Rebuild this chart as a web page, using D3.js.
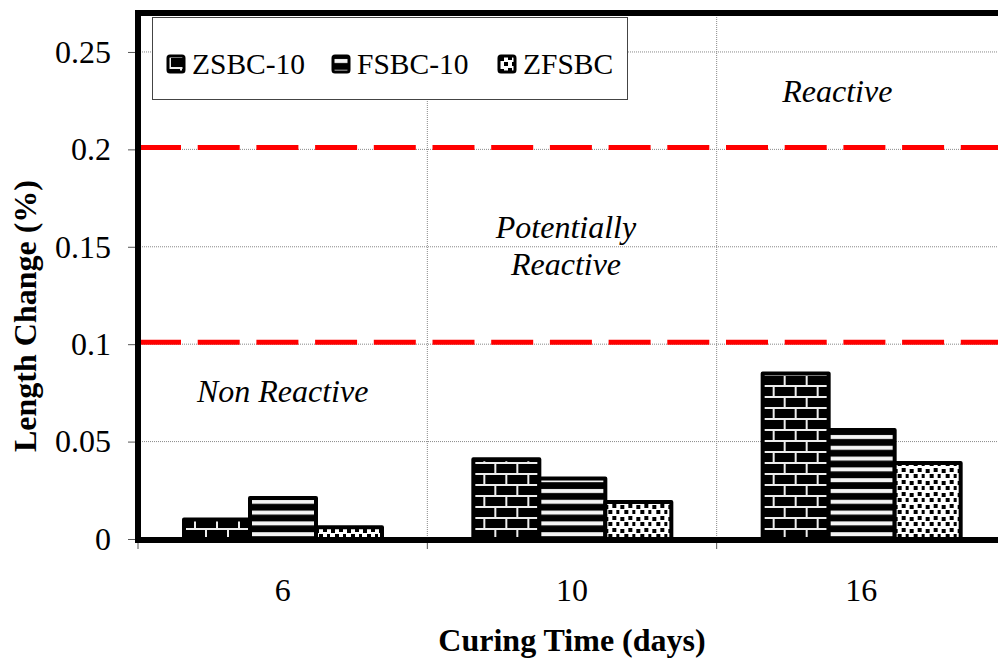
<!DOCTYPE html>
<html>
<head>
<meta charset="utf-8">
<script src="https://cdn.jsdelivr.net/npm/d3@7"></script>
<style>
  body { margin: 0; background: #fff; }
  svg text { font-family: "Liberation Serif", "Times New Roman", Times, serif; fill: #000; }
</style>
</head>
<body>
<div id="chart"></div>
<script>
// data
var categories = ["6", "10", "16"];
var seriesNames = ["ZSBC-10", "FSBC-10", "ZFSBC"];
var zsbcValues = [0.010, 0.041, 0.085];
var fsbcValues = [0.021, 0.031, 0.056];
var zfsbcValues = [0.006, 0.019, 0.039];
var yTickValues = [0, 0.05, 0.1, 0.15, 0.2, 0.25];
var limitValues = [0.101, 0.201];

var svgWidth = 998;
var svgHeight = 660;

var margin = { top: 13, left: 138 };
var plotRight = 1006;
var plotBottom = 539;

var svg = d3.select("#chart")
  .append("svg")
  .attr("width", svgWidth)
  .attr("height", svgHeight);

var defs = svg.append("defs");

// brick pattern
var brick = defs.append("pattern")
  .attr("id", "brick")
  .attr("patternUnits", "userSpaceOnUse")
  .attr("width", 22)
  .attr("height", 22);
brick.append("rect").attr("width", 22).attr("height", 22).attr("fill", "#000");
brick.append("path")
  .attr("d", "M0,1H22M0,12H22M2,1V12M13,12V22")
  .attr("stroke", "#eee")
  .attr("stroke-width", 2);

// horizontal stripes
var stripes = defs.append("pattern")
  .attr("id", "stripes")
  .attr("patternUnits", "userSpaceOnUse")
  .attr("width", 10)
  .attr("height", 10.8);
stripes.append("rect").attr("width", 10).attr("height", 10.8).attr("fill", "#000");
stripes.append("rect").attr("y", 3).attr("width", 10).attr("height", 4).attr("fill", "#f4f4f4");

// dots
var dots = defs.append("pattern")
  .attr("id", "dots")
  .attr("patternUnits", "userSpaceOnUse")
  .attr("width", 16)
  .attr("height", 12);
dots.append("rect").attr("width", 16).attr("height", 12).attr("fill", "#fff");
[[1, 1], [9, 0], [5, 6], [13, 6]].forEach(function(p) {
  dots.append("rect")
    .attr("x", p[0]).attr("y", p[1])
    .attr("width", 4).attr("height", 4)
    .attr("fill", "#000");
});

var fills = ["url(#brick)", "url(#stripes)", "url(#dots)"];

// scales
var x0 = d3.scaleBand()
  .domain(categories)
  .range([margin.left, plotRight]);

var x1 = d3.scaleBand()
  .domain(seriesNames)
  .range([46, 244]);

var y = d3.scaleLinear()
  .domain([0, 0.27])
  .range([plotBottom, margin.top]);

// gridlines
var grid = svg.append("g");
grid.selectAll("line.h")
  .data(yTickValues.slice(1))
  .enter()
  .append("line")
  .attr("x1", margin.left)
  .attr("x2", plotRight)
  .attr("y1", d => y(d))
  .attr("y2", d => y(d))
  .attr("stroke", "#888")
  .attr("stroke-width", 1)
  .attr("stroke-dasharray", "1,1");

grid.selectAll("line.v")
  .data(categories.slice(1))
  .enter()
  .append("line")
  .attr("x1", d => x0(d))
  .attr("x2", d => x0(d))
  .attr("y1", margin.top)
  .attr("y2", plotBottom)
  .attr("stroke", "#888")
  .attr("stroke-width", 1)
  .attr("stroke-dasharray", "1,1");

// red limit lines
svg.selectAll("line.limit")
  .data(limitValues)
  .enter()
  .append("line")
  .attr("x1", margin.left + 1)
  .attr("x2", plotRight)
  .attr("y1", d => y(d))
  .attr("y2", d => y(d))
  .attr("stroke", "#ff0000")
  .attr("stroke-width", 5)
  .attr("stroke-dasharray", "42,16.7");

// bars
var series = [zsbcValues, fsbcValues, zfsbcValues];
var barGroups = svg.selectAll("g.cat")
  .data(categories)
  .enter()
  .append("g")
  .attr("transform", d => `translate(${x0(d)},0)`);

barGroups.selectAll("rect")
  .data((d, i) => seriesNames.map((s, j) => ({ name: s, value: series[j][i], idx: j })))
  .enter()
  .append("rect")
  .attr("x", d => x1(d.name))
  .attr("width", x1.bandwidth())
  .attr("y", d => y(d.value))
  .attr("height", d => plotBottom - y(d.value))
  .attr("fill", d => fills[d.idx])
  .attr("stroke", "#000")
  .attr("stroke-width", 4)
  .attr("stroke-linejoin", "round");

// axes
var leftAxis = d3.axisLeft(y)
  .tickValues(yTickValues)
  .tickSize(10)
  .tickPadding(17)
  .tickFormat(d => String(d));

var yAxis = svg.append("g")
  .attr("transform", `translate(${margin.left}, 0)`)
  .call(leftAxis)
  .attr("font-family", null);
yAxis.select(".domain").remove();
yAxis.selectAll("line").attr("stroke", "#555");
yAxis.selectAll("text")
  .attr("font-size", 32);

var xAxis = svg.append("g");
xAxis.selectAll("line")
  .data(categories)
  .enter()
  .append("line")
  .attr("x1", d => x0(d))
  .attr("x2", d => x0(d))
  .attr("y1", plotBottom)
  .attr("y2", plotBottom + 10)
  .attr("stroke", "#555");
xAxis.selectAll("text")
  .data(categories)
  .enter()
  .append("text")
  .attr("x", d => x0(d) + x0.bandwidth() / 2)
  .attr("y", 601)
  .attr("text-anchor", "middle")
  .attr("font-size", 32)
  .text(d => d);

// thick frame lines
svg.append("line")
  .attr("x1", margin.left).attr("x2", margin.left)
  .attr("y1", margin.top - 3).attr("y2", plotBottom + 4)
  .attr("stroke", "#000").attr("stroke-width", 6);
svg.append("line")
  .attr("x1", margin.left - 3).attr("x2", plotRight)
  .attr("y1", margin.top).attr("y2", margin.top)
  .attr("stroke", "#000").attr("stroke-width", 6);
svg.append("line")
  .attr("x1", margin.left - 3).attr("x2", plotRight)
  .attr("y1", plotBottom + 1).attr("y2", plotBottom + 1)
  .attr("stroke", "#000").attr("stroke-width", 6);

// zone labels
var zoneLabels = svg.append("g")
  .attr("font-size", 32)
  .attr("font-style", "italic")
  .attr("text-anchor", "middle");
zoneLabels.append("text")
  .attr("x", x0("6") + x0.bandwidth() / 2)
  .attr("y", 402)
  .text("Non Reactive");
zoneLabels.append("text")
  .attr("x", x0("10") + x0.bandwidth() / 2 - 6)
  .attr("y", 238)
  .text("Potentially");
zoneLabels.append("text")
  .attr("x", x0("10") + x0.bandwidth() / 2 - 6)
  .attr("y", 275)
  .text("Reactive");
zoneLabels.append("text")
  .attr("x", x0("16") + x0.bandwidth() / 2 - 24)
  .attr("y", 102)
  .text("Reactive");

// axis titles
svg.append("text")
  .attr("x", x0("10") + x0.bandwidth() / 2)
  .attr("y", 651)
  .attr("text-anchor", "middle")
  .attr("font-size", 32)
  .attr("font-weight", "bold")
  .text("Curing Time (days)");

svg.append("text")
  .attr("transform", `translate(36, ${(margin.top + plotBottom) / 2 + 40}) rotate(-90)`)
  .attr("text-anchor", "middle")
  .attr("font-size", 32)
  .attr("font-weight", "bold")
  .text("Length Change (%)");

// legend
var legend = svg.append("g");
legend.append("rect")
  .attr("x", 152.5).attr("y", 17.5)
  .attr("width", 475).attr("height", 82)
  .attr("fill", "#fff")
  .attr("stroke", "#444")
  .attr("stroke-width", 1);

var legendX = [168, 333, 499];
var items = legend.selectAll("g.item")
  .data(seriesNames)
  .enter()
  .append("g")
  .attr("transform", (d, i) => `translate(${legendX[i]}, 56)`);
items.append("rect")
  .attr("width", 16).attr("height", 16)
  .attr("rx", 2)
  .attr("fill", (d, i) => fills[i])
  .attr("stroke", "#000")
  .attr("stroke-width", 3);
items.append("text")
  .attr("x", 24)
  .attr("y", 18)
  .attr("font-size", 29.5)
  .text(d => d);
</script>
</body>
</html>
